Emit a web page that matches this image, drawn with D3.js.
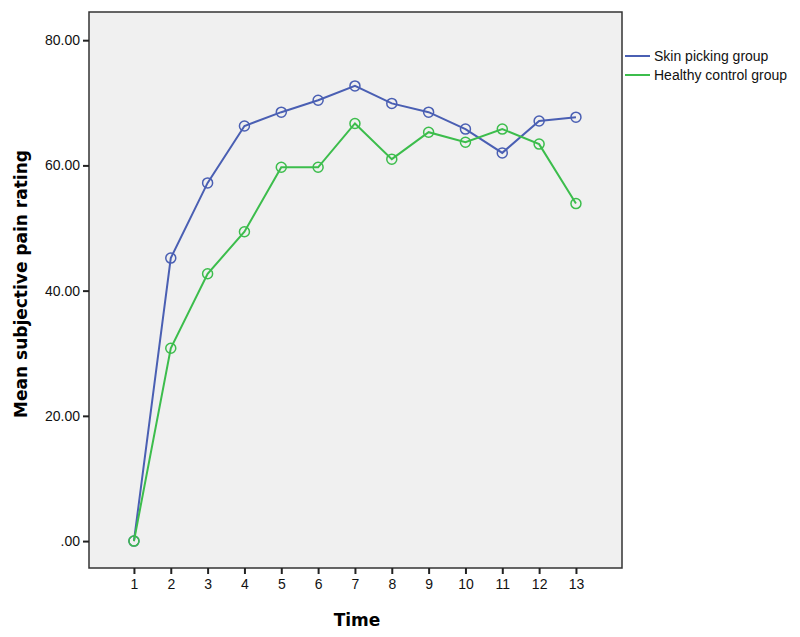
<!DOCTYPE html>
<html>
<head>
<meta charset="utf-8">
<script src="https://cdn.jsdelivr.net/npm/d3@7"></script>
<style>
  body { margin: 0; background: #fff; }
  text { font-family: "Liberation Sans", Arial, sans-serif; }
</style>
</head>
<body>
<script>
// chart values
var times = [1, 2, 3, 4, 5, 6, 7, 8, 9, 10, 11, 12, 13];
var skinPicking = [0, 45.2, 57.2, 66.3, 68.5, 70.4, 72.7, 69.9, 68.5, 65.8, 62.0, 67.1, 67.7];
var healthyControl = [0, 30.8, 42.7, 49.4, 59.7, 59.7, 66.7, 61.0, 65.3, 63.7, 65.8, 63.4, 53.9];
var seriesNames = ["Skin picking group", "Healthy control group"];
var seriesColors = ["#4a5fb3", "#3cbd4c"];
var yTicks = [0, 20, 40, 60, 80];

var width = 800, height = 637;
var plot = { left: 89, top: 12, right: 622, bottom: 568 };

var svg = d3.select("body").append("svg")
  .attr("width", width)
  .attr("height", height);

var x = d3.scaleLinear().domain([-0.22, 14.25]).range([plot.left, plot.right]);
var y = d3.scaleLinear().domain([-4.3, 84.5]).range([plot.bottom, plot.top]);

// plot background
svg.append("rect")
  .attr("x", plot.left)
  .attr("y", plot.top)
  .attr("width", plot.right - plot.left)
  .attr("height", plot.bottom - plot.top)
  .style("fill", "#f0f0f0")
  .style("stroke", "#333")
  .style("stroke-width", 1.5);

// axes
var yAxis = svg.append("g")
  .attr("transform", "translate(" + plot.left + ",0)")
  .call(d3.axisLeft(y).tickValues(yTicks).tickSize(6).tickSizeOuter(0)
    .tickFormat(function(d) { return d === 0 ? ".00" : d3.format(".2f")(d); }));

var xAxis = svg.append("g")
  .attr("transform", "translate(0," + plot.bottom + ")")
  .call(d3.axisBottom(x).tickValues(times).tickSize(6).tickSizeOuter(0)
    .tickFormat(d3.format("d")));

[yAxis, xAxis].forEach(function(ax) {
  ax.select(".domain").remove();
  ax.selectAll(".tick line").style("stroke", "#222").style("stroke-width", 2);
  ax.selectAll(".tick text")
    .style("font-family", "Liberation Sans, Arial, sans-serif")
    .style("font-size", "14px")
    .style("fill", "#111");
});
yAxis.selectAll(".tick text").attr("x", -9);
xAxis.selectAll(".tick text").attr("y", 11);

// axis titles
svg.append("text")
  .attr("x", 357)
  .attr("y", 626)
  .attr("text-anchor", "middle")
  .style("font-family", "DejaVu Sans, Verdana, sans-serif")
  .style("font-size", "17px")
  .style("font-weight", "bold")
  .text("Time");

svg.append("text")
  .attr("transform", "translate(27,284) rotate(-90)")
  .attr("text-anchor", "middle")
  .style("font-family", "DejaVu Sans, Verdana, sans-serif")
  .style("font-size", "17px")
  .style("font-weight", "bold")
  .text("Mean subjective pain rating");

// series
var series = [skinPicking, healthyControl];
var line = d3.line()
  .x(function(d, i) { return x(times[i]); })
  .y(function(d) { return y(d); });

series.forEach(function(vals, s) {
  svg.append("path")
    .datum(vals)
    .attr("d", line)
    .style("fill", "none")
    .style("stroke", seriesColors[s])
    .style("stroke-width", 2);

  svg.selectAll(".pt" + s)
    .data(vals)
    .enter()
    .append("circle")
    .attr("class", "pt" + s)
    .attr("cx", function(d, i) { return x(times[i]); })
    .attr("cy", function(d) { return y(d); })
    .attr("r", 5)
    .style("fill", "none")
    .style("stroke", seriesColors[s])
    .style("stroke-width", 1.5);
});

// legend
var legend = svg.selectAll(".legend")
  .data(seriesNames)
  .enter()
  .append("g")
  .attr("class", "legend")
  .attr("transform", function(d, i) { return "translate(625," + (56 + i * 19) + ")"; });

legend.append("line")
  .attr("x1", 0).attr("x2", 25)
  .style("stroke", function(d, i) { return seriesColors[i]; })
  .style("stroke-width", 2);

legend.append("text")
  .attr("x", 29)
  .attr("dy", "0.35em")
  .style("font-size", "14px")
  .style("fill", "#111")
  .text(function(d) { return d; });
</script>
</body>
</html>
